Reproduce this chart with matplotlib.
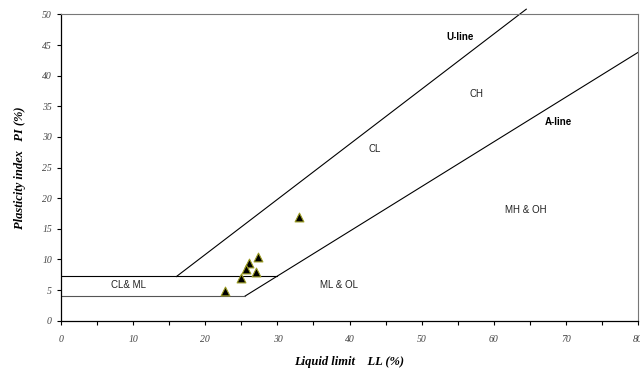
import matplotlib
matplotlib.use("Agg")
import matplotlib.pyplot as plt
import numpy as np

# data
ll_points = [33.0, 27.3, 26.0, 25.6, 27.0, 25.0, 22.7]
pi_points = [17.0, 10.4, 9.4, 8.4, 8.0, 7.0, 4.9]

u_line_ll = [16.0, 64.5]
a_line_ll = [25.5, 80.0]
upper_h = 7.3
lower_h = 4.0

xticks = list(range(0, 81, 10))
yticks = list(range(0, 51, 5))

zone_labels = ["CL& ML", "ML & OL", "CL", "CH", "MH & OH"]
zone_pos = [(9.3, 5.8), (38.5, 5.8), (43.5, 28.0), (57.6, 37.0), (64.5, 18.0)]
line_labels = ["U-line", "A-line"]
line_label_pos = [(55.3, 46.3), (69.0, 32.4)]

fig = plt.figure(figsize=(6.4, 3.69), dpi=100)
ax = fig.add_axes([0.0953, 0.131, 0.9017, 0.830])
ax.set_xlim(0, 80)
ax.set_ylim(0, 50)

u_pi = [0.9 * (x - 8) for x in u_line_ll]
a_pi = [0.73 * (x - 20) for x in a_line_ll]
a_pi[0] = lower_h
ax.plot(u_line_ll, u_pi, color="black", lw=0.8, clip_on=False)
ax.plot(a_line_ll, a_pi, color="black", lw=0.8)
ax.plot([0, 20 + upper_h / 0.73], [upper_h, upper_h], color="black", lw=0.8)
ax.plot([0, a_line_ll[0]], [lower_h, lower_h], color="#555555", lw=0.8)

ax.scatter(ll_points, pi_points, marker="^", s=40, facecolor="black",
           edgecolor="#9a9a20", linewidth=0.8, zorder=5)

for t, (x, y) in zip(zone_labels, zone_pos):
    ax.text(x, y, t, fontsize=7, family="Liberation Sans", color="#222222",
            ha="center", va="center")
for t, (x, y) in zip(line_labels, line_label_pos):
    ax.text(x, y, t, fontsize=7, family="Liberation Sans", fontweight="bold",
            ha="center", va="center")

ax.set_xticks(xticks)
ax.set_xticks(list(range(5, 80, 10)), minor=True)
ax.set_yticks(yticks)
ax.tick_params(axis="both", which="both", direction="out", length=3, width=0.8,
               labelsize=7, labelcolor="#444444")
ax.tick_params(axis="x", pad=7)
for lab in ax.get_xticklabels() + ax.get_yticklabels():
    lab.set_family("Liberation Serif")
    lab.set_style("italic")

for s in ["top", "right"]:
    ax.spines[s].set_color("#777777")
    ax.spines[s].set_linewidth(0.8)
for s in ["left", "bottom"]:
    ax.spines[s].set_linewidth(0.9)

ax.set_xlabel("Liquid limit    LL (%)", family="Liberation Serif", style="italic",
              fontweight="bold", fontsize=9, labelpad=9)
ax.set_ylabel("Plasticity index   PI (%)", family="Liberation Serif", style="italic",
              fontweight="bold", fontsize=9, labelpad=12)

fig.savefig("out.png", dpi=100)
